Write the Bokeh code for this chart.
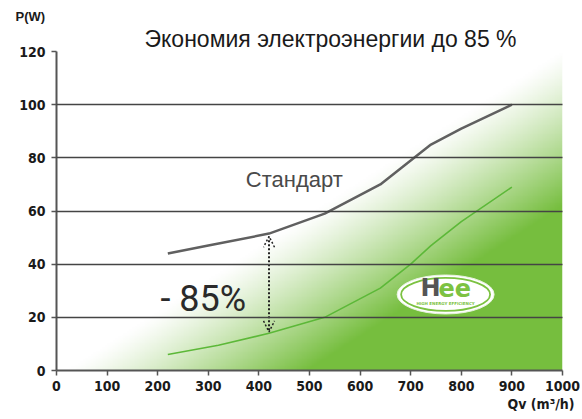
import numpy as np
from bokeh.plotting import figure
from bokeh.models import Range1d, FixedTicker, Title, Arrow, OpenHead
from bokeh.embed import file_html
from bokeh.resources import INLINE
from bokeh.core.properties import value

# ---- data ----
x_ticks = [0, 100, 200, 300, 400, 500, 600, 700, 800, 900, 1000]
y_ticks = [0, 20, 40, 60, 80, 100, 120]
grid_ticks = [20, 40, 60, 80, 100]

std_q = [220, 300, 420, 530, 640, 740, 800, 900]
std_p = [44, 47, 51.5, 59, 70, 85, 91, 100]

hee_q = [220, 320, 420, 530, 640, 700, 740, 800, 900]
hee_p = [6, 9.5, 14, 20, 31, 40, 47, 56, 69]

arrow_q = 420
arrow_top = 51.5
arrow_bottom = 14

title_text = "Экономия электроэнергии до 85 %"
std_label = "Стандарт"
saving_label = "- 85%"
y_label = "P(W)"
x_label = "Qv (m³/h)"

p = figure(width=580, height=417, output_backend="svg", toolbar_location=None,
           x_range=Range1d(0, 1000), y_range=Range1d(0, 120),
           min_border_left=56, min_border_right=18, min_border_top=51, min_border_bottom=47)
p.outline_line_color = None
p.background_fill_color = "white"
p.border_fill_color = "white"

# titles (outside the frame)
p.title.text = y_label
p.title.align = "left"
p.title.offset = -41
p.title.standoff = 0
p.title.text_font = "Liberation Sans"
p.title.text_font_style = "bold"
p.title.text_font_size = "13px"
p.title.text_color = "#1a1a1a"

p.add_layout(Title(text=title_text, align="left", offset=88, standoff=0,
                   text_font="Liberation Sans", text_font_style="normal",
                   text_font_size="23px", text_line_height=0.6, text_color="#1a1a1a"), "above")
p.add_layout(Title(text=x_label, align="right", offset=-12, standoff=0,
                   text_font="DejaVu Sans Condensed", text_font_style="bold",
                   text_font_size="14px", text_color="#1a1a1a"), "below")

# gradient background
nx, ny = 300, 180
gx = np.linspace(0, 1, nx)[None, :]
gy = np.linspace(0, 1, ny)[:, None]
a = np.clip(2.1 * gx - 2.05 * gy - 0.05, 0, 1) ** 1.2
g = np.array([118, 190, 62])
img = np.empty((ny, nx), dtype=np.uint32)
view = img.view(dtype=np.uint8).reshape((ny, nx, 4))
for k in range(3):
    view[:, :, k] = (255 * (1 - a) + g[k] * a).astype(np.uint8)
view[:, :, 3] = 255
p.image_rgba(image=[img], x=0, y=0, dw=1000, dh=120)

# grid
p.xgrid.visible = False
p.ygrid.ticker = FixedTicker(ticks=grid_ticks)
p.ygrid.grid_line_color = "#444444"
p.ygrid.grid_line_width = 1.3
p.ygrid.level = "overlay"

# axes
for ax in (p.xaxis[0], p.yaxis[0]):
    ax.axis_line_color = "#555555"
    ax.axis_line_width = 2
    ax.major_tick_line_color = "#555555"
    ax.major_tick_line_width = 1.5
    ax.major_tick_out = 5
    ax.major_tick_in = 0
    ax.minor_tick_line_color = None
    ax.major_label_text_font = "DejaVu Sans Condensed"
    ax.major_label_text_font_style = "bold"
    ax.major_label_text_font_size = "14px"
    ax.major_label_text_color = "#1a1a1a"
p.xaxis.ticker = FixedTicker(ticks=x_ticks)
p.yaxis.ticker = FixedTicker(ticks=y_ticks)
p.xaxis.major_label_standoff = 5
p.yaxis.major_label_standoff = 6

# curves
p.line(std_q, std_p, line_color="#606060", line_width=2.5)
p.line(hee_q, hee_p, line_color="#5cb838", line_width=1.6)

# arrow
p.add_layout(Arrow(x_start=arrow_q, y_start=arrow_top - 1, x_end=arrow_q, y_end=arrow_bottom + 0.5,
                   line_color="#222222", line_width=2, line_dash="2 2",
                   start=OpenHead(size=11, line_color="#222222", line_width=1.5, line_dash="2 2"),
                   end=OpenHead(size=11, line_color="#222222", line_width=1.5, line_dash="2 2")))

# in-plot texts
p.text(x=[470], y=[72], text=[std_label], text_align="center", text_baseline="middle",
       text_font=value("Liberation Sans"), text_font_size="22px", text_color="#4a4a4a")
p.text(x=[290], y=[27], text=[saving_label], text_align="center", text_baseline="middle",
       text_font=value("Roboto"), text_font_size="36px", text_color="#2a2a2a")

# Hee logo
logo_x, logo_y = 769, 28.6
p.ellipse(x=[logo_x], y=[logo_y], width=97, height=39, width_units="screen", height_units="screen",
          fill_color="white", line_color="#e8f3df", line_width=1)
p.ellipse(x=[logo_x], y=[logo_y], width=89, height=33, width_units="screen", height_units="screen",
          fill_color="white", line_color="#7cc242", line_width=1.8)
p.text(x=[759], y=[31], text=["H"], text_align="right", text_baseline="middle",
       text_font=value("DejaVu Sans"), text_font_style="bold", text_font_size="24px", text_color="#555555")
p.text(x=[755], y=[31], text=["ee"], text_align="left", text_baseline="middle",
       text_font=value("DejaVu Sans"), text_font_style="bold", text_font_size="24px", text_color="#7cc242")
p.text(x=[logo_x], y=[25.3], text=["HIGH ENERGY EFFICIENCY"], text_align="center",
       text_baseline="middle", text_font=value("DejaVu Sans"), text_font_style="bold",
       text_font_size="4px", text_color="#7cc242")

open("out.html", "w").write(file_html(p, INLINE))
